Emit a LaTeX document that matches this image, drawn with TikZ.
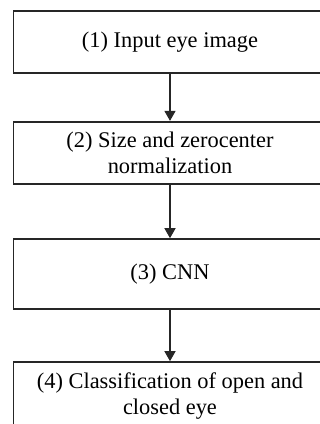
\documentclass[tikz,border=0pt]{standalone}
\usepackage{fontspec}
\setmainfont{Liberation Serif}
\usetikzlibrary{arrows.meta}
\begin{document}
\begin{tikzpicture}[x=1pt,y=-1pt,
  stepbox/.style={draw=black!85, line width=1.6pt, fill=white, rectangle,
    minimum width=313.4pt, align=center, inner sep=0pt,
    font=\fontsize{22.4}{26.7}\selectfont},
  flow/.style={draw=black!85, line width=1.3pt, -{Triangle[length=10pt,width=11pt]}}]
\useasboundingbox (0,0) rectangle (320,424);
\node[stepbox, minimum height=62pt] (b1) at (170,41.7) {(1) Input eye image};
\node[stepbox, minimum height=62.3pt] (b2) at (170,152.85) {(2) Size and zerocenter\\normalization};
\node[stepbox, minimum height=70pt] (b3) at (170,274) {(3) CNN};
\node[stepbox, minimum height=68pt] (b4) at (170,396) {(4) Classification of open and\\closed eye};
\draw[flow] (b1.south) -- (b2.north);
\draw[flow] (b2.south) -- (b3.north);
\draw[flow] (b3.south) -- (b4.north);
\end{tikzpicture}
\end{document}
